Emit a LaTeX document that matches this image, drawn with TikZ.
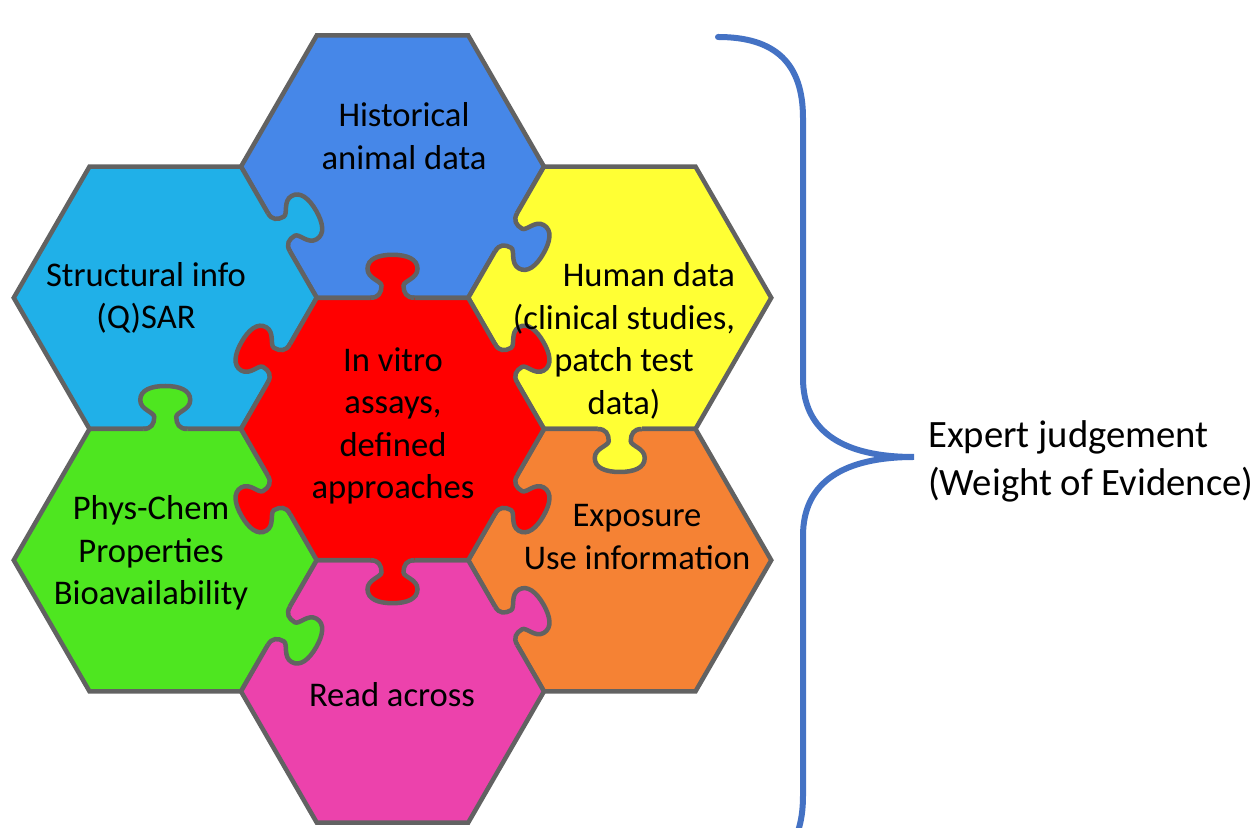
\documentclass[tikz,border=0pt]{standalone}
\usepackage{fontspec}
\setmainfont{Carlito}
\definecolor{cellgray}{RGB}{98,98,98}
\definecolor{cellblue}{RGB}{70,135,232}
\definecolor{cellcyan}{RGB}{32,176,232}
\definecolor{cellred}{RGB}{255,0,0}
\definecolor{cellyellow}{RGB}{255,255,52}
\definecolor{cellgreen}{RGB}{78,230,32}
\definecolor{cellorange}{RGB}{245,130,52}
\definecolor{cellpink}{RGB}{236,66,172}
\definecolor{bracecol}{RGB}{68,114,196}

% radius and apothem of a cell
\def\hexR{151.5}
\def\hexA{131.2}

% one hexagonal cell: #1 centre, #2 fill
\newcommand\hexcell[2]{%
  \draw[cellline, fill=#2, shift={(#1)}]
    (0:\hexR) -- (60:\hexR) -- (120:\hexR) -- (180:\hexR)
    -- (240:\hexR) -- (300:\hexR) -- cycle;}

% puzzle tab grown from cell #1 across its edge facing direction #2, in colour #3
\newcommand\jigtab[3]{%
  \begin{scope}[shift={(#1)}, rotate=#2-90, shift={(0,\hexA)}]
    \fill[#3] (-22,-3.5) -- (-22,0) [tabshape] -- (22,-3.5) -- cycle;
    \draw[cellline] (-22,0) [tabshape];
  \end{scope}}

\begin{document}
\begin{tikzpicture}[x=1bp, y=1bp,
  cellline/.style={draw=cellgray, line width=4.5bp},
  tabshape/.style={insert path={
    .. controls (-14,0) and (-11,5) .. (-11,12)
    .. controls (-11,17) and (-25,19) .. (-25,29)
    .. controls (-25,39) and (-14,43) .. (0,43)
    .. controls (14,43) and (25,39) .. (25,29)
    .. controls (25,19) and (11,17) .. (11,12)
    .. controls (11,5) and (14,0) .. (22,0)}},
  celltext/.style={font=\fontsize{34.6bp}{42.5bp}\selectfont, align=center,
    inner sep=0pt, text=black},
  bracetext/.style={font=\fontsize{38.7bp}{48bp}\selectfont, align=left,
    inner sep=0pt, text=black, anchor=west}]

\useasboundingbox (0,0) rectangle (1254,828);
\clip (0,0) rectangle (1254,828);

% cell centres
\coordinate (cRed)    at (392.5,399);
\coordinate (cBlue)   at (392.5,661.4);
\coordinate (cPink)   at (392.5,136.6);
\coordinate (cCyan)   at (165.25,530.2);
\coordinate (cYellow) at (619.75,530.2);
\coordinate (cGreen)  at (165.25,267.8);
\coordinate (cOrange) at (619.75,267.8);

% cells
\hexcell{cBlue}{cellblue}
\hexcell{cCyan}{cellcyan}
\hexcell{cYellow}{cellyellow}
\hexcell{cGreen}{cellgreen}
\hexcell{cOrange}{cellorange}
\hexcell{cPink}{cellpink}
\hexcell{cRed}{cellred}

% tabs locking the cells together
\jigtab{cRed}{90}{cellred}
\jigtab{cRed}{150}{cellred}
\jigtab{cRed}{30}{cellred}
\jigtab{cRed}{210}{cellred}
\jigtab{cRed}{330}{cellred}
\jigtab{cRed}{270}{cellred}
\jigtab{cCyan}{30}{cellcyan}
\jigtab{cBlue}{330}{cellblue}
\jigtab{cGreen}{90}{cellgreen}
\jigtab{cYellow}{270}{cellyellow}
\jigtab{cGreen}{330}{cellgreen}
\jigtab{cPink}{30}{cellpink}

% cell labels
\node[celltext] (tBlue)   at (404,692) {Historical\\animal data};
\node[celltext] (tCyan)   at (146,530) {Structural info\\(Q)SAR};
\node[celltext] (tRed)    at (393,402) {In vitro\\assays,\\defined\\approaches};
\node[celltext] (tYellow) at (624,487) {\hspace*{50bp}Human data\\(clinical studies,\\patch test\\data)};
\node[celltext] (tGreen)  at (151,275) {Phys-Chem\\Properties\\Bioavailability};
\node[celltext] (tOrange) at (637,291) {Exposure\\Use information};
\node[celltext] (tPink)   at (392,133) {Read across};

% curly brace gathering all the evidence
\coordinate (bTop) at (718,791);
\coordinate (bTip) at (914,371);
\coordinate (bBot) at (718,-49);
\draw[bracecol, line width=6bp, line cap=round]
  (bTop) .. controls (775,791) and (803,765) .. (803,710)
  -- (803,450) .. controls (803,395) and (845,371) .. (bTip)
  .. controls (845,371) and (803,347) .. (803,292)
  -- (803,32) .. controls (803,-23) and (775,-49) .. (bBot);

\node[bracetext] (tJudge) at (928,367) {Expert judgement\\(Weight of Evidence)};

\end{tikzpicture}
\end{document}
